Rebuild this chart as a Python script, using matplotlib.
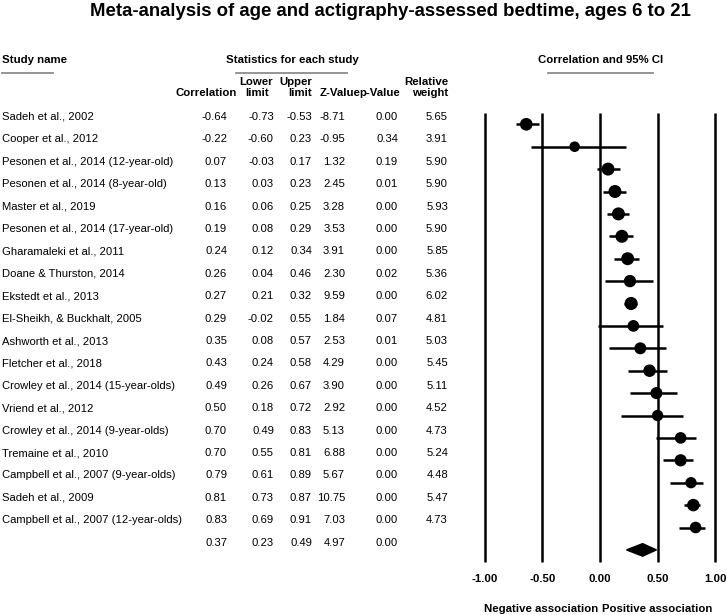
############################# Title #############################

''' Forest plot: meta-analysis of age and actigraphy-assessed bedtime '''

############################ Settings ###########################

import numpy as np
import matplotlib
matplotlib.use("Agg")
import matplotlib.pyplot as plt
from matplotlib.patches import Polygon
import matplotlib.transforms as mtransforms

plt.rcParams['font.family'] = ['Liberation Sans', 'DejaVu Sans']

########################## Data #########################

studies = ["Sadeh et al., 2002",
           "Cooper et al., 2012",
           "Pesonen et al., 2014 (12-year-old)",
           "Pesonen et al., 2014 (8-year-old)",
           "Master et al., 2019",
           "Pesonen et al., 2014 (17-year-old)",
           "Gharamaleki et al., 2011",
           "Doane & Thurston, 2014",
           "Ekstedt et al., 2013",
           "El-Sheikh, & Buckhalt, 2005",
           "Ashworth et al., 2013",
           "Fletcher et al., 2018",
           "Crowley et al., 2014 (15-year-olds)",
           "Vriend et al., 2012",
           "Crowley et al., 2014 (9-year-olds)",
           "Tremaine et al., 2010",
           "Campbell et al., 2007 (9-year-olds)",
           "Sadeh et al., 2009",
           "Campbell et al., 2007 (12-year-olds)"]
corr   = [-0.64, -0.22, 0.07, 0.13, 0.16, 0.19, 0.24, 0.26, 0.27, 0.29,
          0.35, 0.43, 0.49, 0.50, 0.70, 0.70, 0.79, 0.81, 0.83]
lower  = [-0.73, -0.60, -0.03, 0.03, 0.06, 0.08, 0.12, 0.04, 0.21, -0.02,
          0.08, 0.24, 0.26, 0.18, 0.49, 0.55, 0.61, 0.73, 0.69]
upper  = [-0.53, 0.23, 0.17, 0.23, 0.25, 0.29, 0.34, 0.46, 0.32, 0.55,
          0.57, 0.58, 0.67, 0.72, 0.83, 0.81, 0.89, 0.87, 0.91]
zvalue = [-8.71, -0.95, 1.32, 2.45, 3.28, 3.53, 3.91, 2.30, 9.59, 1.84,
          2.53, 4.29, 3.90, 2.92, 5.13, 6.88, 5.67, 10.75, 7.03]
pvalue = [0.00, 0.34, 0.19, 0.01, 0.00, 0.00, 0.00, 0.02, 0.00, 0.07,
          0.01, 0.00, 0.00, 0.00, 0.00, 0.00, 0.00, 0.00, 0.00]
weight = [5.65, 3.91, 5.90, 5.90, 5.93, 5.90, 5.85, 5.36, 6.02, 4.81,
          5.03, 5.45, 5.11, 4.52, 4.73, 5.24, 4.48, 5.47, 4.73]

summary = [0.37, 0.23, 0.49, 4.97, 0.00]   # corr, lower, upper, z, p

ticks = [-1.0, -0.5, 0.0, 0.5, 1.0]
tick_labels = ["-1.00", "-0.50", "0.00", "0.50", "1.00"]

########################## Figure #########################

W, H = 727, 615
fig = plt.figure(figsize=(W / 100, H / 100), dpi=100)

def fx(px):
    return px / W

def fy(py):
    return 1 - py / H

def ftext(px, py, s, **kw):
    fig.text(fx(px), fy(py), s, va='baseline', **kw)

''' Title '''
ftext(390, 16, "Meta-analysis of age and actigraphy-assessed bedtime, ages 6 to 21",
      ha='center', fontsize=13.4, fontweight='bold')

''' Column headers '''
hs = 8.2
ftext(2, 63, "Study name", ha='left', fontsize=hs, fontweight='bold')
ftext(292, 63, "Statistics for each study", ha='center', fontsize=hs, fontweight='bold')
ftext(601, 63, "Correlation and 95% CI", ha='center', fontsize=hs, fontweight='bold')

for x0, x1 in [(2, 53), (236, 347), (548, 653)]:
    fig.add_artist(plt.Line2D([fx(x0), fx(x1)], [fy(73), fy(73)],
                              color='#8c8c8c', lw=1.3))

ftext(237, 96, "Correlation", ha='right', fontsize=hs, fontweight='bold')
ftext(256, 85, "Lower", ha='center', fontsize=hs, fontweight='bold')
ftext(257, 96, "limit", ha='center', fontsize=hs, fontweight='bold')
ftext(312, 85, "Upper", ha='right', fontsize=hs, fontweight='bold')
ftext(312, 96, "limit", ha='right', fontsize=hs, fontweight='bold')
ftext(361, 96, "Z-Value", ha='right', fontsize=hs, fontweight='bold')
ftext(400, 96, "p-Value", ha='right', fontsize=hs, fontweight='bold')
ftext(448, 85, "Relative", ha='right', fontsize=hs, fontweight='bold')
ftext(448, 96, "weight", ha='right', fontsize=hs, fontweight='bold')

''' Table rows '''
fs = 8.1
row0, step = 120, 22.4
col_right = [227, 274, 312, 345, 398, 448]
for i in range(len(studies)):
    y = row0 + step * i
    ftext(2, y, studies[i], ha='left', fontsize=fs)
    vals = [corr[i], lower[i], upper[i], zvalue[i], pvalue[i], weight[i]]
    for xr, v in zip(col_right, vals):
        ftext(xr, y, "%.2f" % v, ha='right', fontsize=fs)

y = row0 + step * len(studies)
for xr, v in zip(col_right[:5], summary):
    ftext(xr, y, "%.2f" % v, ha='right', fontsize=fs)

########################## Forest plot #########################

dot0, dstep = 124.3, 22.4
unit = 115.2          # pixels per correlation unit
x_zero = 600
ax_l, ax_r, ax_t, ax_b = 470, 727, 100, 566
ax = fig.add_axes([fx(ax_l), fy(ax_b), fx(ax_r - ax_l), (ax_b - ax_t) / H])
ax.set_xlim((ax_l - x_zero) / unit, (ax_r - x_zero) / unit)
ax.set_ylim((ax_b - dot0) / dstep, (ax_t - dot0) / dstep)
for s in ax.spines.values():
    s.set_visible(False)
ax.set_yticks([])
ax.set_xticks(ticks)
ax.set_xticklabels(tick_labels, fontsize=8.2, fontweight='bold')
ax.tick_params(axis='x', length=0, pad=5.5)

n = len(studies)
ax.vlines(ticks, -0.5, n + 0.54, color='black', lw=1.8, zorder=1)

rows = np.arange(n)
ax.hlines(rows, lower, upper, color='black', lw=1.8, zorder=2)
ax.scatter(corr, rows, s=np.array(weight) * 14.8, color='black', zorder=3,
           linewidths=0)

''' Summary diamond '''
h = 0.28
diamond = Polygon([[summary[1], n], [summary[0], n - h],
                   [summary[2], n], [summary[0], n + h]],
                  closed=True, color='black', zorder=3)
ax.add_patch(diamond)

''' Association labels '''
trans = mtransforms.blended_transform_factory(ax.transData, fig.transFigure)
ax.text(-0.51, fy(612), "Negative association", transform=trans, ha='center',
        va='baseline', fontsize=8.2, fontweight='bold')
ax.text(0.50, fy(612), "Positive association", transform=trans, ha='center',
        va='baseline', fontsize=8.2, fontweight='bold')

fig.savefig("out.png", dpi=100)
